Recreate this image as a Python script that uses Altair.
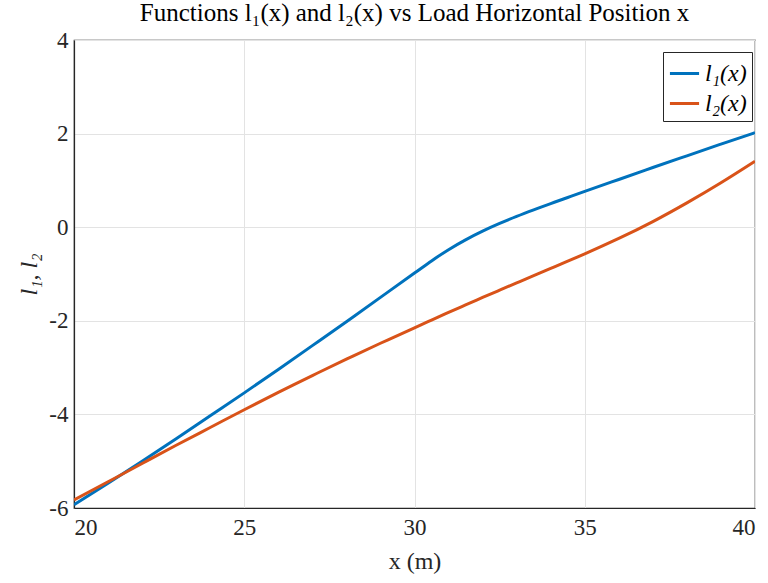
import altair as alt
import pandas as pd

x_vals = [20, 21, 22, 23, 24, 25, 26, 27, 28, 29, 30, 30.5, 31, 31.5, 32, 32.5, 33, 33.5, 34, 34.5, 35, 36, 37, 38, 39, 40]
l1_vals = [-5.93, -5.47, -5.00, -4.52, -4.03, -3.54, -3.04, -2.53, -2.02, -1.50, -0.98, -0.72, -0.48, -0.27, -0.085, 0.08, 0.23, 0.37, 0.505, 0.635, 0.765, 1.02, 1.275, 1.525, 1.775, 2.02]
l2_vals = [-5.83, -5.44, -5.05, -4.66, -4.28, -3.90, -3.53, -3.17, -2.82, -2.48, -2.15, -1.985, -1.82, -1.66, -1.50, -1.345, -1.19, -1.035, -0.88, -0.725, -0.57, -0.24, 0.12, 0.52, 0.95, 1.41]
series_names = ["l\u2081(x)", "l\u2082(x)"]
series_colors = ["#0072BD", "#D95319"]
x_ticks = [20, 25, 30, 35, 40]
y_ticks = [-6, -4, -2, 0, 2, 4]

rows = []
for xv, a, b in zip(x_vals, l1_vals, l2_vals):
    rows.append({"x": xv, "value": a, "series": series_names[0]})
    rows.append({"x": xv, "value": b, "series": series_names[1]})
df = pd.DataFrame(rows)

FONT = "Liberation Serif"

chart = alt.Chart(df).mark_line(strokeWidth=3, interpolate="natural", clip=True).encode(
    x=alt.X("x:Q", scale=alt.Scale(domain=[20, 40], nice=False, zero=False),
            axis=alt.Axis(values=x_ticks, title="x (m)", labelExpr="'' + datum.value")),
    y=alt.Y("value:Q", scale=alt.Scale(domain=[-6, 4], nice=False, zero=False),
            axis=alt.Axis(values=y_ticks, title="l\u2081, l\u2082", labelExpr="'' + datum.value",
                          titleFontStyle="italic")),
    color=alt.Color("series:N", scale=alt.Scale(domain=series_names, range=series_colors),
                    legend=alt.Legend(title=None, orient="none", legendX=589, legendY=12,
                                      symbolType="stroke", symbolStrokeWidth=3, symbolSize=850,
                                      labelFont=FONT, labelFontSize=24, labelFontStyle="italic",
                                      labelColor="#000000",
                                      strokeColor="#262626", fillColor="white", padding=5,
                                      cornerRadius=0, rowPadding=1, labelOffset=4)),
).properties(
    width=681, height=468,
    title=alt.TitleParams("Functions l\u2081(x) and l\u2082(x) vs Load Horizontal Position x",
                          font=FONT, fontSize=25, fontWeight="normal", color="#000000",
                          anchor="middle", offset=3),
    padding={"left": 74, "top": 40, "right": 13, "bottom": 75},
    autosize=alt.AutoSizeParams(type="none"),
).configure_view(
    stroke="#262626", strokeWidth=1.2
).configure_axis(
    labelFont=FONT, labelFontSize=23, labelColor="#262626",
    titleFont=FONT, titleFontSize=24, titleFontWeight="normal", titleColor="#262626",
    domainColor="#262626", domainWidth=1.2,
    gridColor="#e3e3e3", gridWidth=1,
    ticks=False
).configure_axisX(titlePadding=10, labelPadding=8).configure_axisY(titlePadding=7, labelPadding=6)

chart.save("out.html", embed_options={"renderer": "svg", "actions": False})
